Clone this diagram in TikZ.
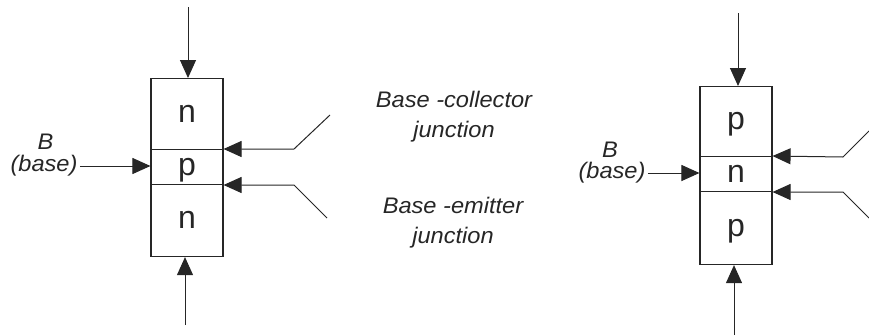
\documentclass[tikz,border=0pt]{standalone}
\usepackage{fontspec}
\setmainfont{Liberation Sans}
\newfontfamily\lblfont{Liberation Sans}[FakeStretch=1.05]
\usetikzlibrary{arrows.meta}
\begin{document}
\begin{tikzpicture}[x=1pt,y=-1pt,
  line width=1pt,
  color=black!85,
  cell/.style={draw, line width=1.1pt, minimum width=72pt, inner sep=0pt, anchor=north,
    font=\fontsize{32}{36}\selectfont, text height=16.6pt, text depth=0pt},
  lbl/.style={font=\lblfont\itshape\fontsize{22.5}{30}\selectfont, align=center, inner sep=2pt},
  arr/.style={draw, -{Triangle[length=18pt,width=16pt]}},
  ]
\path[use as bounding box, draw=none] (0,0) rectangle (869,335);

% ---------- left transistor (npn) ----------
\node[cell, minimum height=71pt] (c1) at (187,78) {n};
\node[cell, minimum height=35pt] (c2) at (187,149) {p};
\node[cell, minimum height=72pt] (c3) at (187,184) {n};

\coordinate (ltop) at (188,7);
\coordinate (lbot) at (185,325);
\draw[arr] (ltop) -- (ltop |- c1.north);
\draw[arr] (lbot) -- (lbot |- c3.south);

\node[lbl] (lB) at (45.5,142) {B};
\node[lbl] (lbase) at (44,166) {(base)};
\draw[arr] (lbase.east) -- (lbase.east -| c2.west);

\coordinate (luA) at (330,115);
\coordinate (luK) at (294,149);
\draw[arr] (luA) -- (luK) -- (c2.north east);
\coordinate (llA) at (327,218);
\coordinate (llK) at (294,185);
\draw[arr] (llA) -- (llK) -- (llK -| c2.east);

% ---------- junction labels ----------
\node[lbl] (bc) at (454,117) {Base -collector\\junction};
\node[lbl] (be) at (453,222.5) {Base -emitter\\junction};

% ---------- right transistor (pnp) ----------
\node[cell, minimum height=70pt] (r1) at (736,86) {p};
\node[cell, minimum height=35pt] (r2) at (736,156) {n};
\node[cell, minimum height=73pt] (r3) at (736,191) {p};

\coordinate (rtop) at (738,13);
\coordinate (rbot) at (734,335);
\draw[arr] (rtop) -- (rtop |- r1.north);
\draw[arr] (rbot) -- (rbot |- r3.south);

\node[lbl] (rB) at (610,150) {B};
\node[lbl] (rbase) at (612,173) {(base)};
\draw[arr] (rbase.east) -- (rbase.east -| r2.west);

\coordinate (ruA) at (869,131);
\coordinate (ruK) at (843,157);
\draw[arr] (ruA) -- (ruK) -- (r2.north east);
\coordinate (rlA) at (869,218);
\coordinate (rlK) at (843,192);
\draw[arr] (rlA) -- (rlK) -- (rlK -| r2.east);
\end{tikzpicture}
\end{document}
